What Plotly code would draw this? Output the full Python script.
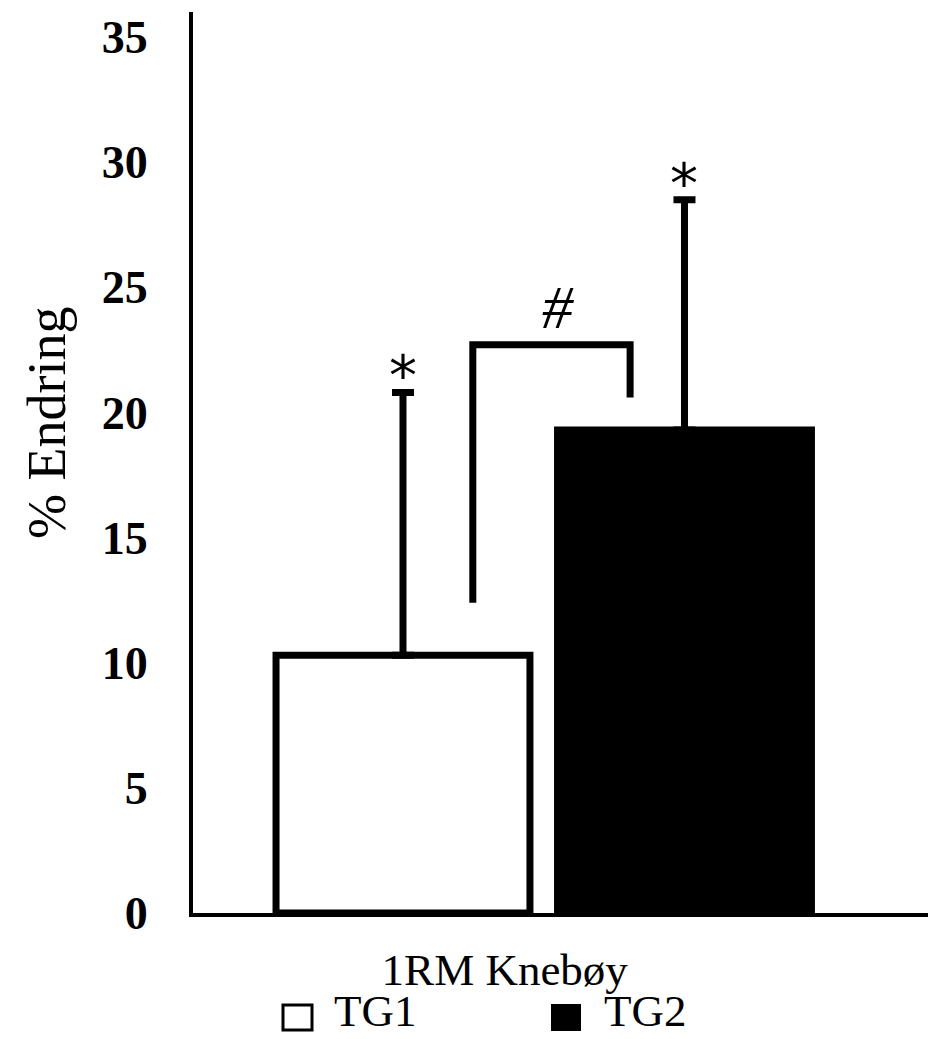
import plotly.graph_objects as go

# ---- data ----
categories = ["1RM Knebøy"]
groups = ["TG1", "TG2"]
tg1_mean = [10.3]
tg1_sd = [10.5]
tg2_mean = [19.3]
tg2_sd = [9.2]
bracket_y = [12.4, 22.7, 20.6]   # left foot, top, right foot
y_ticks = [0, 5, 10, 15, 20, 25, 30, 35]

FONT = "Liberation Serif"
W, H = 928, 1039
ML, MT, MB = 193, 12, 126
PW, PH = W - ML, H - MT - MB
BARGAP = 0.234
SLOT = (1 - BARGAP) / 2
x_idx = list(range(len(categories)))
x_tg1 = [i - SLOT / 2 for i in x_idx]
x_tg2 = [i + SLOT / 2 for i in x_idx]


def py(pix):  # page pixel row -> paper y
    return (H - MB - pix) / PH


def px(pix):  # page pixel column -> paper x
    return (pix - ML) / PW


fig = go.Figure()
fig.add_trace(go.Bar(
    x=x_idx, y=tg1_mean, name=groups[0],
    marker=dict(color="white", line=dict(color="black", width=7)),
    error_y=dict(type="data", array=tg1_sd, arrayminus=[0] * len(tg1_sd), symmetric=False,
                 color="black", thickness=7, width=11),
))
fig.add_trace(go.Bar(
    x=x_idx, y=tg2_mean, name=groups[1],
    marker=dict(color="black", line=dict(color="black", width=7)),
    error_y=dict(type="data", array=tg2_sd, arrayminus=[0] * len(tg2_sd), symmetric=False,
                 color="black", thickness=7, width=11),
))

# significance bracket
bx_left = x_tg1[0] + 0.095
bx_right = x_tg2[0] - 0.074
fig.add_trace(go.Scatter(
    x=[bx_left, bx_left, bx_right, bx_right],
    y=[bracket_y[0], bracket_y[1], bracket_y[1], bracket_y[2]],
    mode="lines", line=dict(color="black", width=7), showlegend=False, hoverinfo="skip",
))

annotations = []
for xs, m, s in ((x_tg1, tg1_mean, tg1_sd), (x_tg2, tg2_mean, tg2_sd)):
    annotations.append(dict(x=xs[0], y=m[0] + s[0], xref="x", yref="y", text="*",
                            showarrow=False, yanchor="bottom", yshift=-18,
                            font=dict(family="DejaVu Sans", size=56, color="black")))
annotations.append(dict(x=(bx_left + bx_right) / 2, y=bracket_y[1], xref="x", yref="y", text="<i>#</i>",
                        showarrow=False, yanchor="bottom", yshift=2, xshift=7,
                        font=dict(family=FONT, size=62, color="black")))
# y-axis title
annotations.append(dict(x=px(47), y=py(423), xref="paper", yref="paper", text="% Endring",
                        textangle=-90, showarrow=False, xanchor="center", yanchor="middle",
                        font=dict(family=FONT, size=54, color="black")))
# legend (custom)
leg_top, leg_bot = py(1005), py(1030)
shapes = [
    dict(type="rect", xref="paper", yref="paper", x0=px(283), x1=px(312), y0=leg_top, y1=leg_bot,
         line=dict(color="black", width=3), fillcolor="white"),
    dict(type="rect", xref="paper", yref="paper", x0=px(552), x1=px(580), y0=leg_top, y1=leg_bot,
         line=dict(color="black", width=2), fillcolor="black"),
]
annotations.append(dict(x=px(332), y=py(1038), xref="paper", yref="paper", text=groups[0],
                        showarrow=False, xanchor="left", yanchor="bottom",
                        font=dict(family=FONT, size=45, color="black")))
annotations.append(dict(x=px(602), y=py(1038), xref="paper", yref="paper", text=groups[1],
                        showarrow=False, xanchor="left", yanchor="bottom",
                        font=dict(family=FONT, size=45, color="black")))

fig.update_layout(
    width=W, height=H,
    margin=dict(l=ML, r=0, t=MT, b=MB),
    paper_bgcolor="white", plot_bgcolor="white",
    barmode="group", bargap=BARGAP, bargroupgap=0.098,
    showlegend=False,
    annotations=annotations, shapes=shapes,
    xaxis=dict(range=[-0.4772, 0.5228], tickvals=x_idx, ticktext=categories,
               showline=True, linecolor="black", linewidth=4, showgrid=False, zeroline=False,
               ticks="", ticklabelshift=-39, ticklabelstandoff=14,
               tickfont=dict(family=FONT, size=45, color="black")),
    yaxis=dict(range=[0, 36], tickvals=y_ticks, ticktext=[f"<b>{v}</b>" for v in y_ticks],
               showline=True, linecolor="black", linewidth=4, showgrid=False, zeroline=False,
               ticks="", ticklabelstandoff=32,
               tickfont=dict(family=FONT, size=46, color="black")),
)

fig.write_html(
    "out.html",
    config={"displayModeBar": False},
    post_script="document.body.style.margin='0';document.body.style.overflow='hidden';",
)
